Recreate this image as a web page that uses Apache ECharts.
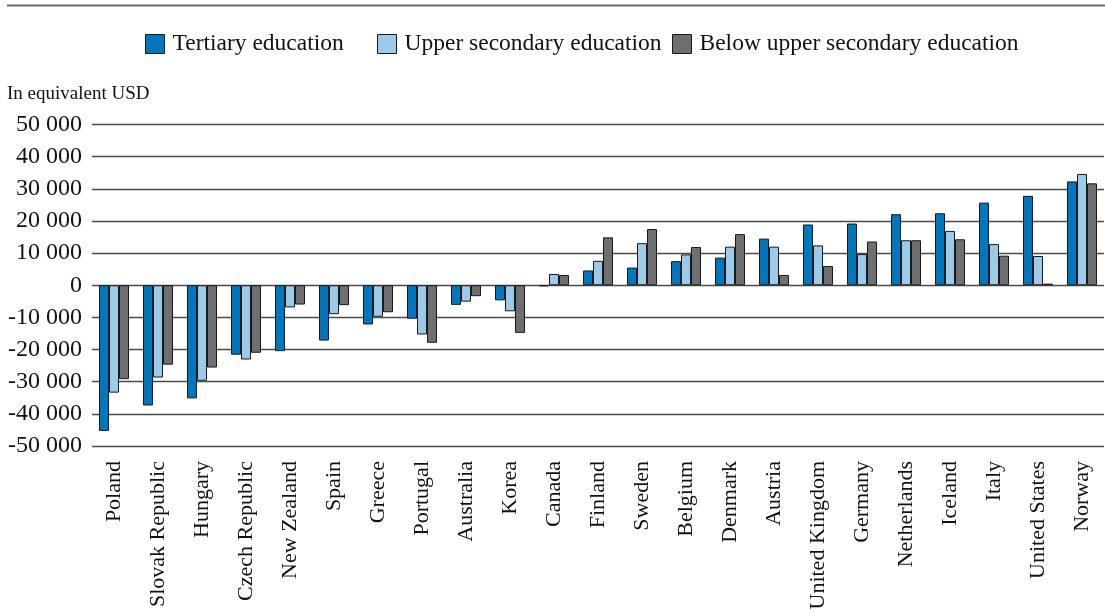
<!DOCTYPE html>
<html>
<head>
<meta charset="utf-8">
<script src="https://cdn.jsdelivr.net/npm/echarts@6/dist/echarts.min.js"></script>
<style>
html,body{margin:0;padding:0;background:#fff;}
#chart{width:1105px;height:613px;}
</style>
</head>
<body>
<div id="chart"></div>
<script>
var categories = ["Poland","Slovak Republic","Hungary","Czech Republic","New Zealand","Spain","Greece","Portugal","Australia","Korea","Canada","Finland","Sweden","Belgium","Denmark","Austria","United Kingdom","Germany","Netherlands","Iceland","Italy","United States","Norway"];
var tertiary = [-45300,-37400,-35200,-21600,-20500,-17200,-12200,-10400,-6100,-4700,-300,4600,5500,7500,8600,14500,18900,19200,22100,22400,25700,27800,32300];
var upperSecondary = [-33400,-28700,-29700,-23100,-6900,-9000,-9800,-15300,-5100,-8100,3500,7600,13100,9600,12000,12000,12400,9700,14000,16900,12800,9100,34600];
var belowUpperSecondary = [-29200,-24700,-25600,-21000,-6000,-6200,-8400,-17900,-3400,-14800,3200,14900,17500,11900,15900,3200,6000,13600,14000,14300,9200,500,31700];
var seriesNames = ["Tertiary education","Upper secondary education","Below upper secondary education"];
var yTicks = {min:-50000, max:50000, interval:10000};

var FONT = '"Liberation Serif", "DejaVu Serif", serif';
var chart = echarts.init(document.getElementById('chart'));
function fmt(v){
  var s = Math.abs(v).toString();
  var out = s.replace(/\B(?=(\d{3})+(?!\d))/g, ' ');
  return (v < 0 ? '-' : '') + out;
}
var colors = ['#0076bd','#9ccae8','#6e6f71'];
function mk(name, data, i){
  return {
    name: name, type: 'bar', data: data, barWidth: 10, barGap: '0%',
    itemStyle: {color: colors[i], borderColor: '#1a1a1a', borderWidth: 1},
    emphasis: {disabled: true}
  };
}
var legendLefts = [145, 377, 672];
var legends = seriesNames.map(function(n, i){
  return {
    data: [n], top: 32, left: legendLefts[i], padding: 0,
    itemWidth: 19, itemHeight: 19, icon: 'rect',
    itemStyle: {borderColor: '#1a1a1a', borderWidth: 1},
    textStyle: {fontFamily: FONT, fontSize: 23.5, color: '#111', padding: [0,0,0,3]}
  };
});
chart.setOption({
  animation: false,
  color: colors,
  textStyle: {fontFamily: FONT},
  legend: legends,
  graphic: [
    {type: 'line', shape: {x1: 7, y1: 5.5, x2: 1105, y2: 5.5}, style: {stroke: '#6a6a6a', lineWidth: 2}},
    {type: 'text', left: 7, top: 85, style: {text: 'In equivalent USD', font: '19px ' + FONT, fill: '#111'}}
  ],
  grid: {left: 92, right: 1, top: 124.5, bottom: 167, containLabel: false},
  xAxis: {
    type: 'category', data: categories,
    axisLine: {show: false}, axisTick: {show: false},
    axisLabel: {rotate: 90, fontSize: 22, color: '#111', fontFamily: FONT, margin: 15, interval: 0}
  },
  yAxis: {
    type: 'value', min: yTicks.min, max: yTicks.max, interval: yTicks.interval,
    axisLine: {show: false}, axisTick: {show: false},
    axisLabel: {formatter: fmt, fontSize: 24, color: '#111', fontFamily: FONT, margin: 10},
    splitLine: {lineStyle: {color: '#4a4a4a', width: 1.3}}
  },
  series: [mk(seriesNames[0], tertiary, 0), mk(seriesNames[1], upperSecondary, 1), mk(seriesNames[2], belowUpperSecondary, 2)]
});
</script>
</body>
</html>
